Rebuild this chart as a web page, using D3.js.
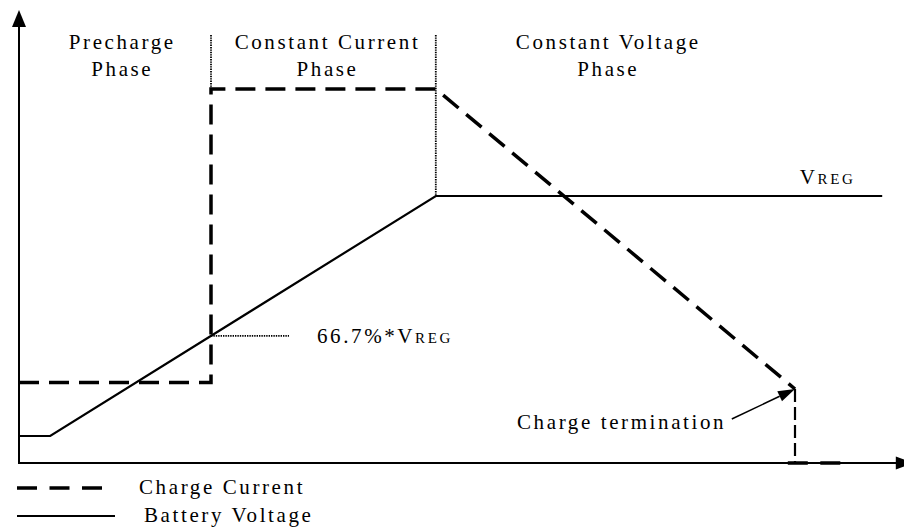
<!DOCTYPE html>
<html><head><meta charset="utf-8">
<script src="https://cdn.jsdelivr.net/npm/d3@7"></script>
<style>
html,body{margin:0;padding:0;background:#fff;}
svg{display:block;}
</style></head>
<body>
<svg id="c" width="904" height="529"></svg>
<script>
// ---- data (arbitrary schematic units: time 0..110, level 0..100) ----
const phaseBounds = [24, 52.1];              // precharge end, constant-current end
const currentMain = [[0,20.1],[24,20.1],[24,93.5],[52.1,93.5],[97,18.5]];
const currentDrop = [[97,18.5],[97,0]];
const currentOff  = [[96.1,0],[102.9,0]];
const voltage     = [[0,6.75],[3.9,6.75],[52.1,66.75],[107.9,66.75]];
const vreg = 66.75, precharge = 93.5, thresh = 31.8, threshEnd = 33.75;
const phaseLabels = [
  {lines:["Precharge","Phase"], x:12.75},
  {lines:["Constant Current","Phase"], x:38.4},
  {lines:["Constant Voltage","Phase"], x:73.5}
];
const legendItems = ["Charge Current","Battery Voltage"];
const thresholdLabel = ["66.7%*V","REG"];
const vregLabel = ["V","REG"];
const termLabel = "Charge termination";

// ---- scales ----
const xS = d3.scaleLinear().domain([0,110]).range([19,899]);
const yS = d3.scaleLinear().domain([0,100]).range([463,63]);
const svg = d3.select("#c");
const line = d3.line().x(d=>xS(d[0])).y(d=>yS(d[1]));
const FONT = '"Liberation Serif", "Times New Roman", serif';
function txt(x,y,size){
  return svg.append("text").attr("x",x).attr("y",y)
    .style("font-family",FONT).style("font-size",size+"px")
    .style("letter-spacing","2.6px").attr("fill","#000");
}

// axes
svg.append("line").attr("x1",xS(0)).attr("y1",yS(0)).attr("x2",xS(0)).attr("y2",yS(111))
  .attr("stroke","#000").attr("stroke-width",2);
svg.append("path").attr("d",`M${xS(0)},${yS(113.25)} L${xS(0)-7},${yS(109)} L${xS(0)+7},${yS(109)} Z`).attr("fill","#000");
svg.append("line").attr("x1",xS(0)-1).attr("y1",yS(0)).attr("x2",xS(110)).attr("y2",yS(0))
  .attr("stroke","#000").attr("stroke-width",2);
svg.append("path").attr("d",`M${xS(111.75)},${yS(0)} L${xS(109.6)},${yS(0)-6.5} L${xS(109.6)},${yS(0)+6.5} Z`).attr("fill","#000");

// phase dividers (dotted)
const dotted = sel => sel.attr("stroke","#000").attr("stroke-width",1.8).attr("stroke-dasharray","1.4,1");
dotted(svg.append("line").attr("x1",xS(phaseBounds[0])).attr("x2",xS(phaseBounds[0]))
  .attr("y1",yS(107)).attr("y2",yS(precharge)));
dotted(svg.append("line").attr("x1",xS(phaseBounds[1])).attr("x2",xS(phaseBounds[1]))
  .attr("y1",yS(107)).attr("y2",yS(vreg)));
// threshold dotted
dotted(svg.append("line").attr("x1",xS(phaseBounds[0])).attr("x2",xS(threshEnd))
  .attr("y1",yS(thresh)).attr("y2",yS(thresh)));

// battery voltage
svg.append("path").attr("d",line(voltage)).attr("fill","none").attr("stroke","#000").attr("stroke-width",2.2);

// charge current
svg.append("path").attr("d",line(currentMain)).attr("fill","none").attr("stroke","#000")
  .attr("stroke-width",3.5).attr("stroke-dasharray","20,10");
svg.append("path").attr("d",line(currentDrop)).attr("fill","none").attr("stroke","#000")
  .attr("stroke-width",2.2).attr("stroke-dasharray","13,5");
svg.append("path").attr("d",line(currentOff)).attr("fill","none").attr("stroke","#000")
  .attr("stroke-width",3.5).attr("stroke-dasharray","20,12.5");

// phase labels
phaseLabels.forEach(p=>{
  p.lines.forEach((t,i)=>{
    txt(xS(p.x)+1.3, yS(103.5-6.75*i), 21).attr("text-anchor","middle").text(t);
  });
});

// VREG label
const tv = txt(xS(97.6), yS(69.75), 21);
tv.append("tspan").text(vregLabel[0]);
tv.append("tspan").style("font-size","15px").text(vregLabel[1]);

// threshold label
const tt = txt(xS(37.25), yS(30), 21);
tt.append("tspan").text(thresholdLabel[0]);
tt.append("tspan").style("font-size","15px").text(thresholdLabel[1]);

// termination label + arrow
txt(xS(62.25), yS(8.5), 21).text(termLabel);
const ax1 = xS(89.1), ay1 = yS(11), ax2 = xS(97), ay2 = yS(18.5);
const ang = Math.atan2(ay2-ay1, ax2-ax1);
const L = 17, W = 5.5;
const bx = ax2 - L*Math.cos(ang), by = ay2 - L*Math.sin(ang);
svg.append("line").attr("x1",ax1).attr("y1",ay1).attr("x2",bx).attr("y2",by)
  .attr("stroke","#000").attr("stroke-width",1.5);
svg.append("path").attr("d",`M${ax2},${ay2} L${bx - W*Math.sin(ang)},${by + W*Math.cos(ang)} L${bx + W*Math.sin(ang)},${by - W*Math.cos(ang)} Z`).attr("fill","#000");

// legend
svg.append("line").attr("x1",17).attr("x2",104).attr("y1",488).attr("y2",488)
  .attr("stroke","#000").attr("stroke-width",3.5).attr("stroke-dasharray","20,12.5");
txt(139, 494, 21).text(legendItems[0]);
svg.append("line").attr("x1",17).attr("x2",115).attr("y1",516).attr("y2",516)
  .attr("stroke","#000").attr("stroke-width",2.2);
txt(144, 522, 21).text(legendItems[1]);
</script>
</body></html>
